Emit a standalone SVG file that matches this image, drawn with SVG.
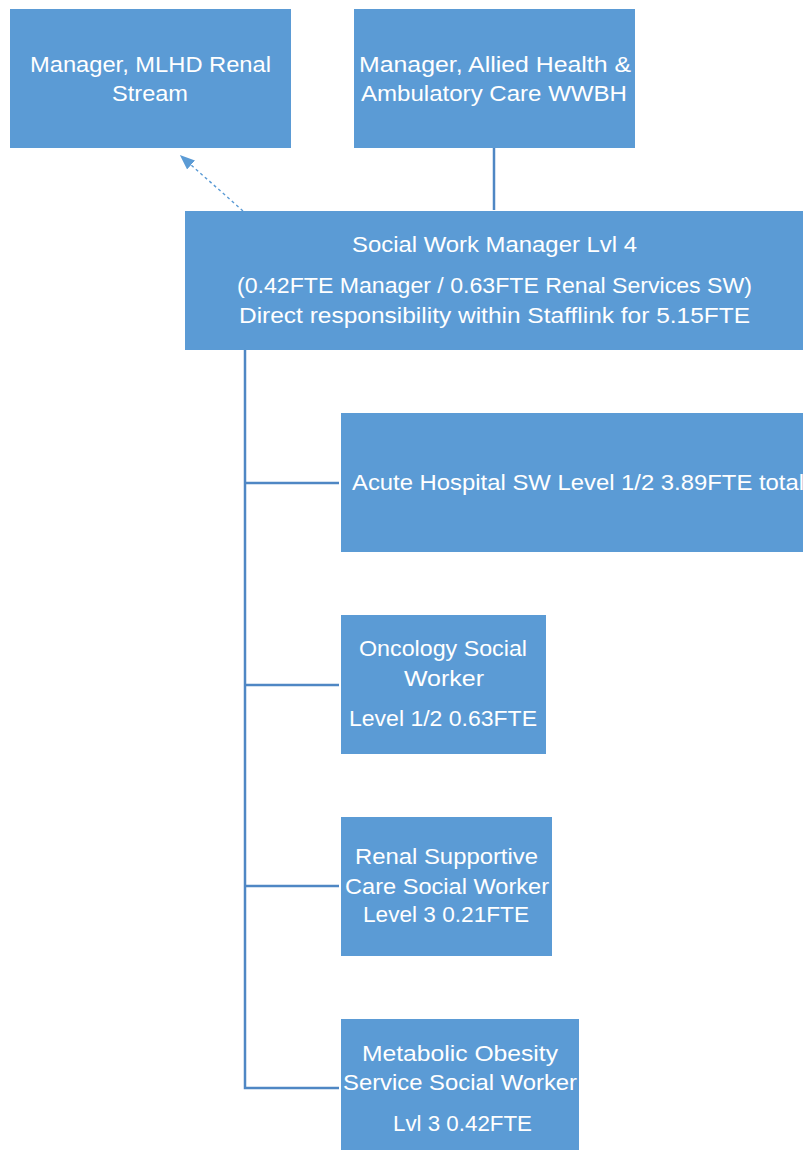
<svg xmlns="http://www.w3.org/2000/svg" width="803" height="1151" viewBox="0 0 803 1151">
  <style>
    .box { fill: #5B9BD5; }
    .lbl { fill: #FFFFFF; font-family: "Liberation Sans", "Noto Sans", sans-serif; font-size: 22px; text-anchor: middle; }
    .lbl-start { text-anchor: start; }
    .link { stroke: #4F87C4; stroke-width: 2.5; fill: none; }
    .dotted { stroke: #5B9BD5; stroke-width: 1.4; stroke-dasharray: 3 3; fill: none; }
  </style>
  <defs>
    <marker id="arrow" viewBox="0 0 10 10" refX="9" refY="5" markerWidth="15" markerHeight="12" markerUnits="userSpaceOnUse" orient="auto" preserveAspectRatio="none">
      <path d="M0,0 L10,5 L0,10 z" fill="#5B9BD5"/>
    </marker>
  </defs>
  <rect width="803" height="1151" fill="#FFFFFF"/>

  <g id="connectors">
    <line class="link" x1="494" y1="148" x2="494" y2="210"/>
    <line class="dotted" x1="243" y1="211" x2="181" y2="156" marker-end="url(#arrow)"/>
    <polyline class="link" points="245,350 245,1088 339,1088"/>
    <line class="link" x1="245" y1="483" x2="339" y2="483"/>
    <line class="link" x1="245" y1="685" x2="339" y2="685"/>
    <line class="link" x1="245" y1="886" x2="339" y2="886"/>
  </g>

  <g id="mlhd-renal">
    <rect class="box" x="10" y="9" width="281" height="139"/>
    <text class="lbl" x="150.5" y="72" textLength="241" lengthAdjust="spacingAndGlyphs">Manager, MLHD Renal</text>
    <text class="lbl" x="150" y="101" textLength="76" lengthAdjust="spacingAndGlyphs">Stream</text>
  </g>

  <g id="allied-health">
    <rect class="box" x="354" y="9" width="281" height="139"/>
    <text class="lbl" x="495" y="72" textLength="272" lengthAdjust="spacingAndGlyphs">Manager, Allied Health &amp;</text>
    <text class="lbl" x="494" y="101" textLength="266" lengthAdjust="spacingAndGlyphs">Ambulatory Care WWBH</text>
  </g>

  <g id="sw-manager">
    <rect class="box" x="185" y="211" width="620" height="139"/>
    <text class="lbl" x="494.5" y="252" textLength="285" lengthAdjust="spacingAndGlyphs">Social Work Manager Lvl 4</text>
    <text class="lbl" x="494.5" y="293" textLength="515" lengthAdjust="spacingAndGlyphs">(0.42FTE Manager / 0.63FTE Renal Services SW)</text>
    <text class="lbl" x="494.5" y="323" textLength="511" lengthAdjust="spacingAndGlyphs">Direct responsibility within Stafflink for 5.15FTE</text>
  </g>

  <g id="acute-hospital">
    <rect class="box" x="341" y="413" width="470" height="139"/>
    <text class="lbl lbl-start" x="352" y="490" textLength="452" lengthAdjust="spacingAndGlyphs">Acute Hospital SW Level 1/2 3.89FTE total</text>
  </g>

  <g id="oncology">
    <rect class="box" x="341" y="615" width="205" height="139"/>
    <text class="lbl" x="443" y="656" textLength="168" lengthAdjust="spacingAndGlyphs">Oncology Social</text>
    <text class="lbl" x="444" y="686" textLength="80" lengthAdjust="spacingAndGlyphs">Worker</text>
    <text class="lbl" x="443" y="726" textLength="188" lengthAdjust="spacingAndGlyphs">Level 1/2 0.63FTE</text>
  </g>

  <g id="renal-supportive">
    <rect class="box" x="341" y="817" width="211" height="139"/>
    <text class="lbl" x="446.5" y="864" textLength="183" lengthAdjust="spacingAndGlyphs">Renal Supportive</text>
    <text class="lbl" x="447" y="894" textLength="204" lengthAdjust="spacingAndGlyphs">Care Social Worker</text>
    <text class="lbl" x="446" y="922" textLength="166" lengthAdjust="spacingAndGlyphs">Level 3 0.21FTE</text>
  </g>

  <g id="metabolic-obesity">
    <rect class="box" x="341" y="1019" width="238" height="131"/>
    <text class="lbl" x="460" y="1061" textLength="196" lengthAdjust="spacingAndGlyphs">Metabolic Obesity</text>
    <text class="lbl" x="460" y="1090" textLength="234" lengthAdjust="spacingAndGlyphs">Service Social Worker</text>
    <text class="lbl" x="462.5" y="1131" textLength="139" lengthAdjust="spacingAndGlyphs">Lvl 3 0.42FTE</text>
  </g>
</svg>
